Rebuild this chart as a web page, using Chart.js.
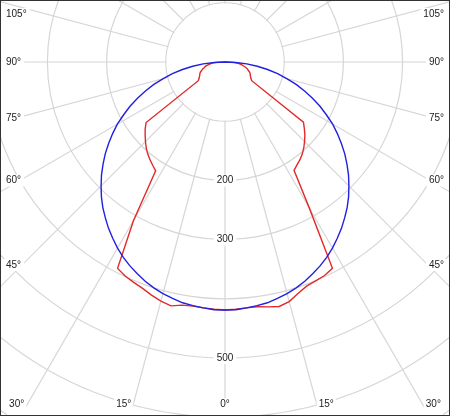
<!DOCTYPE html>
<html>
<head>
<meta charset="utf-8">
<script src="https://cdn.jsdelivr.net/npm/chart.js@4/dist/chart.umd.min.js"></script>
<style>
  html, body { margin: 0; padding: 0; background: #fff; }
  #frame { width: 450px; height: 416px; box-sizing: border-box; border: 1px solid #333; overflow: hidden; }
  canvas { display: block; }
</style>
</head>
<body>
<div id="frame"><canvas id="c" width="448" height="414"></canvas></div>
<script>
// gamma 0..90 deg in 2.5 deg steps, intensity (cd/klm)
const redLeft = [419, 418, 417, 416, 417, 422, 418, 413, 407, 403, 399, 393, 309,
  218, 213, 208, 203, 197, 190, 183, 176, 168, 55, 52, 50, 48, 47, 45, 42, 40,
  36, 34, 30, 26, 22, 15, 0];
const redRight = [419, 418, 417, 417, 420, 423, 419, 410, 403, 400, 398, 393, 285,
  217, 212, 208, 203, 197, 190, 183, 175, 167, 55, 52, 50, 48, 47, 45, 42, 40,
  37, 33, 29, 25, 21, 14, 0];
const blueHalf = [419, 419, 417, 415, 413, 409, 405, 400, 394, 387, 380, 372, 363,
  353, 343, 332, 321, 309, 296, 283, 269, 255, 240, 225, 210, 193, 177, 160, 143,
  126, 108, 91, 73, 55, 37, 18, 0];

const ringLabels = [200, 300, 500];
const angleMarks = [0, 15, 30, 45, 60, 75, 90, 105];

const angleStep = 2.5;
const gammas = [];
for (let a = 0; a < 360; a += angleStep) gammas.push(a);

// index 0 points down, indexes run over the left side, the top, then back down the right side
function wholeCurve(left, right) {
  const out = gammas.map(() => 0);
  left.forEach((v, k) => { out[k] = v; });
  right.forEach((v, k) => { if (k > 0) out[gammas.length - k] = v; });
  return out;
}

const gridColor = '#d6d6d6';
const textColor = '#222';
const labelFont = '10px "Liberation Sans", Arial, sans-serif';

const photometricDecor = {
  id: 'photometricDecor',
  beforeDatasetsDraw(chart) {
    const s = chart.scales.r;
    const ctx = chart.ctx;
    ctx.save();
    // no grid inside the first ring
    ctx.fillStyle = '#fff';
    ctx.beginPath();
    ctx.arc(s.xCenter, s.yCenter, s.getDistanceFromCenterForValue(100) - 0.8, 0, Math.PI * 2);
    ctx.fill();
    // ring values along the 0 deg axis
    ctx.font = labelFont;
    ctx.textAlign = 'center';
    ctx.textBaseline = 'middle';
    ringLabels.forEach(v => {
      const y = s.yCenter + s.getDistanceFromCenterForValue(v);
      const w = ctx.measureText(String(v)).width;
      ctx.fillStyle = '#fff';
      ctx.fillRect(s.xCenter - w / 2 - 3, y - 6, w + 6, 12);
      ctx.fillStyle = textColor;
      ctx.fillText(String(v), s.xCenter, y);
    });
    ctx.restore();
  },
  afterDraw(chart) {
    const s = chart.scales.r;
    const ctx = chart.ctx;
    const W = chart.width, H = chart.height;
    const inset = 24, rayBottom = 407, textBottom = 403;
    ctx.save();
    ctx.font = labelFont;
    ctx.textBaseline = 'middle';
    angleMarks.forEach(m => {
      const sides = m === 0 ? [0] : [-1, 1];
      sides.forEach(side => {
        const rad = m * Math.PI / 180;
        const dx = side * Math.sin(rad);
        const dy = Math.cos(rad);
        const tSide = Math.abs(dx) > 1e-6 ? (W / 2 - inset) / Math.abs(dx) : Infinity;
        const tBottom = dy > 1e-6 ? (rayBottom - s.yCenter) / dy : Infinity;
        const txt = m + '°';
        const w = ctx.measureText(txt).width;
        let x, y, align, bx, by, bw, bh;
        if (tSide < tBottom) {
          y = s.yCenter + dy * tSide + (dy > 1e-6 ? 3 : 0);
          y = Math.max(13, y);
          if (side < 0) { x = 5; align = 'left'; bx = 0; bw = w + 8; }
          else { x = W - 5; align = 'right'; bx = W - w - 8; bw = w + 8; }
          by = y - 6; bh = 12;
        } else {
          const hx = s.xCenter + dx * tBottom;
          y = textBottom;
          if (side === 0) { x = hx; align = 'center'; bx = hx - w / 2 - 2; }
          else if (side < 0) { x = hx - 1; align = 'right'; bx = hx - w - 3; }
          else { x = hx + 1; align = 'left'; bx = hx - 1; }
          bw = w + 4; by = y - 6; bh = H - by;
        }
        ctx.fillStyle = '#fff';
        ctx.fillRect(bx, by, bw, bh);
        ctx.fillStyle = textColor;
        ctx.textAlign = align;
        ctx.fillText(txt, x, y);
      });
    });
    ctx.restore();
  }
};

new Chart(document.getElementById('c'), {
  type: 'radar',
  data: {
    labels: gammas,
    datasets: [
      {
        data: wholeCurve(blueHalf, blueHalf),
        borderColor: '#2020e0',
        borderWidth: 1.4,
        fill: false,
        pointRadius: 0
      },
      {
        data: wholeCurve(redLeft, redRight),
        borderColor: '#e22a2a',
        borderWidth: 1.4,
        fill: false,
        pointRadius: 0
      }
    ]
  },
  options: {
    responsive: false,
    animation: false,
    plugins: { legend: { display: false }, tooltip: { enabled: false } },
    scales: {
      r: {
        min: 0,
        max: 700,
        startAngle: 180,
        ticks: { display: false, stepSize: 100 },
        pointLabels: { display: false },
        grid: { circular: true, color: gridColor, lineWidth: 1.2 },
        angleLines: {
          color: c => (c.index % 6 === 0 ? gridColor : 'rgba(0,0,0,0)'),
          lineWidth: 1.2
        },
        afterFit: scale => {
          scale.xCenter = 224;
          scale.yCenter = 61;
          scale.drawingArea = 700 * 0.592;
        }
      }
    }
  },
  plugins: [photometricDecor]
});
</script>
</body>
</html>
